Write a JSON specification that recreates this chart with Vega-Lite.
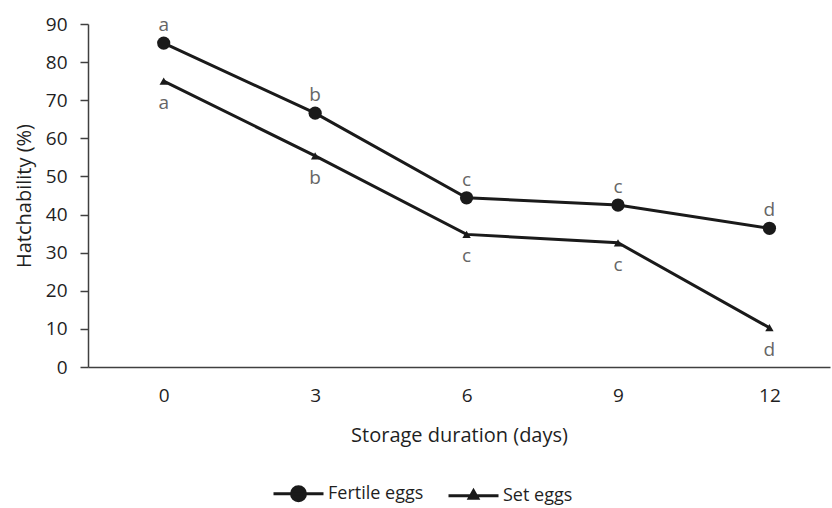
{
  "$schema": "https://vega.github.io/schema/vega-lite/v6.json",
  "width": 742,
  "height": 343,
  "autosize": {"type": "none"},
  "padding": {"left": 88, "top": 24, "right": 2, "bottom": 141},
  "background": "white",
  "config": {
    "view": {"stroke": null},
    "font": "Open Sans",
    "text": {"font": "Open Sans"}
  },
  "data": {
    "values": [
      {"series": "Fertile eggs", "day": 0, "hatch": 85.0, "sig": "a"},
      {"series": "Fertile eggs", "day": 3, "hatch": 66.6, "sig": "b"},
      {"series": "Fertile eggs", "day": 6, "hatch": 44.4, "sig": "c"},
      {"series": "Fertile eggs", "day": 9, "hatch": 42.5, "sig": "c"},
      {"series": "Fertile eggs", "day": 12, "hatch": 36.4, "sig": "d"},
      {"series": "Set eggs", "day": 0, "hatch": 75.0, "sig": "a"},
      {"series": "Set eggs", "day": 3, "hatch": 55.4, "sig": "b"},
      {"series": "Set eggs", "day": 6, "hatch": 34.8, "sig": "c"},
      {"series": "Set eggs", "day": 9, "hatch": 32.6, "sig": "c"},
      {"series": "Set eggs", "day": 12, "hatch": 10.3, "sig": "d"}
    ]
  },
  "encoding": {
    "x": {
      "field": "day",
      "type": "quantitative",
      "scale": {"domain": [-1.5, 13.2], "nice": false, "zero": false},
      "axis": {
        "values": [0, 3, 6, 9, 12],
        "ticks": false,
        "grid": false,
        "domainColor": "#404040",
        "domainWidth": 1.5,
        "labelFontSize": 19,
        "labelColor": "#1f1f1f",
        "labelPadding": 19,
        "labelFont": "Open Sans",
        "title": "Storage duration (days)",
        "titleFont": "Open Sans",
        "titleFontSize": 20,
        "titleFontWeight": "normal",
        "titleColor": "#1f1f1f",
        "titlePadding": 20
      }
    },
    "y": {
      "field": "hatch",
      "type": "quantitative",
      "scale": {"domain": [0, 90], "nice": false},
      "axis": {
        "values": [0, 10, 20, 30, 40, 50, 60, 70, 80, 90],
        "grid": false,
        "domainColor": "#404040",
        "domainWidth": 1.5,
        "tickColor": "#404040",
        "tickSize": 8,
        "tickWidth": 1.5,
        "labelFontSize": 19,
        "labelColor": "#1f1f1f",
        "labelPadding": 13,
        "labelFont": "Open Sans",
        "title": "Hatchability (%)",
        "titleFont": "Open Sans",
        "titleFontSize": 20,
        "titleFontWeight": "normal",
        "titleColor": "#1f1f1f",
        "titlePadding": 11
      }
    }
  },
  "layer": [
    {
      "mark": {"type": "line", "strokeWidth": 3},
      "encoding": {
        "color": {
          "field": "series",
          "type": "nominal",
          "scale": {"domain": ["Fertile eggs", "Set eggs"], "range": ["#1a1a1a", "#1a1a1a"]},
          "legend": {
            "orient": "none",
            "direction": "horizontal",
            "legendX": 184,
            "legendY": 443,
            "title": null,
            "labelFont": "Open Sans",
            "labelFontSize": 18,
            "labelColor": "#1f1f1f",
            "labelOffset": 3,
            "columnPadding": 18,
            "symbolSize": 2500,
            "symbolStrokeWidth": 3,
            "encode": {
              "symbols": {
                "update": {
                  "shape": {"signal": "datum.value == 'Fertile eggs' ? 'M-1,0H1M0.28,0A0.28,0.28 0 1,1 -0.28,0A0.28,0.28 0 1,1 0.28,0Z' : 'M-1,0H1M-0.17,0.1L0,-0.2L0.17,0.1Z'"},
                  "fill": {"value": "#1a1a1a"},
                  "stroke": {"value": "#1a1a1a"},
                  "strokeWidth": {"value": 3},
                  "opacity": {"value": 1}
                }
              }
            }
          }
        }
      }
    },
    {
      "transform": [{"filter": "datum.series == 'Fertile eggs'"}],
      "mark": {"type": "point", "shape": "circle", "filled": true, "size": 175, "color": "#1a1a1a", "opacity": 1}
    },
    {
      "transform": [{"filter": "datum.series == 'Set eggs'"}],
      "mark": {"type": "point", "shape": "triangle-up", "filled": true, "size": 70, "color": "#1a1a1a", "opacity": 1}
    },
    {
      "transform": [{"filter": "datum.series == 'Fertile eggs'"}],
      "mark": {"type": "text", "dy": -18, "fontSize": 19, "color": "#666666", "baseline": "middle"},
      "encoding": {"text": {"field": "sig"}}
    },
    {
      "transform": [{"filter": "datum.series == 'Set eggs'"}],
      "mark": {"type": "text", "dy": 22, "fontSize": 19, "color": "#666666", "baseline": "middle"},
      "encoding": {"text": {"field": "sig"}}
    }
  ]
}
